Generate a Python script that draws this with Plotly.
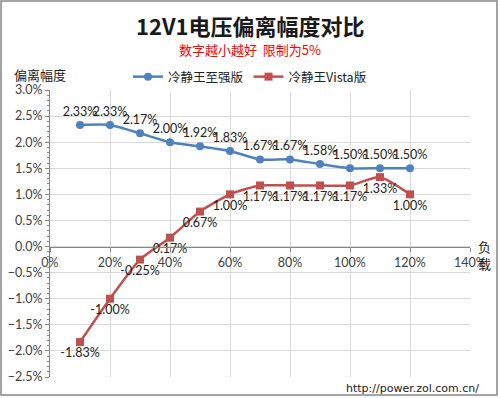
import plotly.graph_objects as go

loads = [0.1, 0.2, 0.3, 0.4, 0.5, 0.6, 0.7, 0.8, 0.9, 1.0, 1.1, 1.2]
pro_vals = [0.0233, 0.0233, 0.0217, 0.0200, 0.0192, 0.0183, 0.0167, 0.0167, 0.0158, 0.0150, 0.0150, 0.0150]
vista_vals = [-0.0183, -0.0100, -0.0025, 0.0017, 0.0067, 0.0100, 0.0117, 0.0117, 0.0117, 0.0117, 0.0133, 0.0100]
series_names = ["冷静王至强版", "冷静王Vista版"]

FONT = "Lato, 'Noto Sans CJK SC', sans-serif"
CJK = "'Noto Sans CJK SC', sans-serif"

ymin, ymax = -0.025, 0.03
zero_pos = (0 - ymin) / (ymax - ymin)
PL, PR, PT, PB = 50, 470, 90, 377
PW, PH = PR - PL, PB - PT

def px(x):
    return (x - PL) / PW

def py(y):
    return (PB - y) / PH

fig = go.Figure()
fig.add_trace(go.Scatter(
    x=loads, y=pro_vals, name=series_names[0], mode="lines+markers+text",
    line=dict(color="#4F81BD", width=2.5, shape="spline", smoothing=0.6),
    marker=dict(symbol="circle", size=8, color="#4F81BD"),
    text=[f"{v*100:.2f}%" for v in pro_vals], textposition="top center",
    textfont=dict(family=FONT, size=12.5, color="#222222"),
))
fig.add_trace(go.Scatter(
    x=loads, y=vista_vals, name=series_names[1], mode="lines+markers+text",
    line=dict(color="#C0504D", width=2.5, shape="spline", smoothing=0.6),
    marker=dict(symbol="square", size=8, color="#C0504D"),
    text=[f"{v*100:.2f}%" for v in vista_vals], textposition="bottom center",
    textfont=dict(family=FONT, size=12.5, color="#222222"),
))

fig.update_layout(
    width=500, height=398,
    margin=dict(l=PL, r=500 - PR, t=PT, b=398 - PB, autoexpand=False),
    paper_bgcolor="white", plot_bgcolor="white",
    font=dict(family=FONT, size=12, color="#404040"),
    showlegend=True,
    legend=dict(orientation="h", x=0.5, xanchor="center", y=1 - 62 / 398, yanchor="top",
                xref="container", yref="container",
                font=dict(family=CJK, size=12.5, color="#222222")),
    xaxis=dict(range=[0, 1.4], dtick=0.2, tick0=0, tickformat=".0%",
               showgrid=True, gridcolor="#D9D9D9", gridwidth=1,
               anchor="free", position=zero_pos, automargin=False,
               showline=True, linecolor="#868686", linewidth=1,
               ticks="outside", ticklen=4, tickcolor="#868686",
               zeroline=False,
               tickfont=dict(family=FONT, size=12.5, color="#404040")),
    yaxis=dict(range=[ymin, ymax], dtick=0.005, tickformat=".1%", automargin=False,
               showgrid=True, gridcolor="#D9D9D9", gridwidth=1,
               showline=True, linecolor="#868686", linewidth=1,
               ticks="outside", ticklen=4, tickcolor="#868686",
               minor=dict(dtick=0.001, ticks="outside", ticklen=2, tickcolor="#868686", showgrid=False),
               zeroline=False,
               tickfont=dict(family=FONT, size=12.5, color="#404040")),
)

fig.add_annotation(text="<b>12V1电压偏离幅度对比</b>", xref="paper", yref="paper",
                   x=px(250), y=py(25), showarrow=False,
                   font=dict(family=CJK, size=22, color="#1a1a1a"), yanchor="middle")
fig.add_annotation(text="数字越小越好  限制为5%", xref="paper", yref="paper",
                   x=px(250), y=py(49), showarrow=False,
                   font=dict(family=CJK, size=13, color="#FF0000"), yanchor="middle")
fig.add_annotation(text="偏离幅度", xref="paper", yref="paper",
                   x=px(12), y=py(74), showarrow=False, xanchor="left",
                   font=dict(family=CJK, size=13, color="#222222"), yanchor="middle")
fig.add_annotation(text="负<br>载", xref="paper", yref="paper",
                   x=px(484), y=py(255), showarrow=False, xanchor="center",
                   font=dict(family=CJK, size=13, color="#222222"), yanchor="middle")
fig.add_annotation(text="http://power.zol.com.cn/", xref="paper", yref="paper",
                   x=px(481), y=py(388), showarrow=False, xanchor="right",
                   font=dict(family="'DejaVu Sans', sans-serif", size=11, color="#222222"), yanchor="middle")
# outer border
fig.add_shape(type="rect", xref="paper", yref="paper",
              x0=px(1), x1=px(497), y0=py(395), y1=py(1),
              line=dict(color="#868686", width=1.5), layer="below")

fig.write_html("out.html", config={"displayModeBar": False},
               post_script="document.body.style.margin='0';")
